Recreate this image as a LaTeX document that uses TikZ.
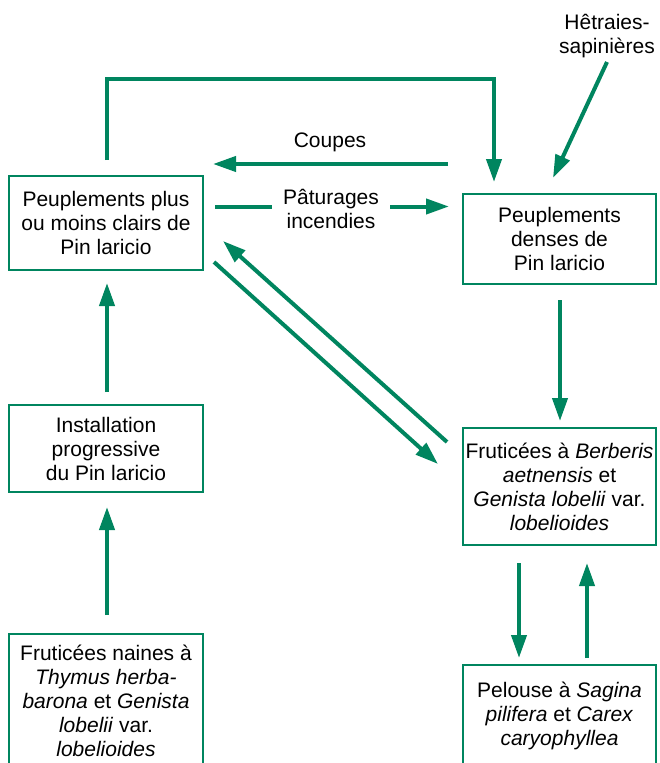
\documentclass[tikz,border=0pt]{standalone}
\usepackage{fontspec}
\setmainfont{Liberation Sans}
\usetikzlibrary{arrows.meta}
\definecolor{vert}{RGB}{0,133,95}
\begin{document}
\begin{tikzpicture}[x=1pt,y=-1pt,
  box/.style={draw=vert,line width=2.5pt,align=center,inner sep=0pt,
    font=\fontsize{21}{24}\selectfont},
  lbl/.style={align=center,inner sep=0pt,font=\fontsize{21}{24}\selectfont},
  ln/.style={draw=vert,line width=4pt,line join=miter},
  arr/.style={ln,-{Triangle[length=23pt,width=15pt]}}]
\useasboundingbox (0,0) rectangle (659,763);

% boxes
\node[box,minimum width=194pt,minimum height=94pt] (A) at (106,223)
  {Peuplements plus\\ou moins clairs de\\Pin laricio};
\node[box,minimum width=193pt,minimum height=90pt] (B) at (559.5,239)
  {Peuplements\\denses de\\Pin laricio};
\node[box,minimum width=193pt,minimum height=117pt] (C) at (559.5,486.5)
  {Fruticées à \textit{Berberis}\\\textit{aetnensis} et\\\textit{Genista lobelii} var.\\\textit{lobelioides}};
\node[box,minimum width=193pt,minimum height=102pt] (D) at (559.5,716)
  {Pelouse à \textit{Sagina}\\\textit{pilifera} et \textit{Carex}\\\textit{caryophyllea}};
\node[box,minimum width=194pt,minimum height=87pt] (E) at (106,448.5)
  {Installation\\progressive\\du Pin laricio};
\node[box,minimum width=194pt,minimum height=134pt] (F) at (106,701)
  {Fruticées naines à\\\textit{Thymus herba-}\\\textit{barona} et \textit{Genista}\\\textit{lobelii} var.\\\textit{lobelioides}};

% free labels
\node[lbl] (H) at (607,36) {Hêtraies-\\sapinières};

% connector end points
\coordinate (a1) at (107,160);
\coordinate (a2) at (107,79);
\coordinate (a3) at (494,79);
\coordinate (a4) at (494,182);
\coordinate (c1) at (448,164);
\coordinate (c2) at (213,164);
\coordinate (p1) at (215,206.5);
\coordinate (p2) at (449,206.5);
\coordinate (h1) at (607,62);
\coordinate (h2) at (553,178);
\coordinate (d1) at (447,442);
\coordinate (d2) at (223,241);
\coordinate (d3) at (214,262);
\coordinate (d4) at (438,464);
\coordinate (b1) at (560,300);
\coordinate (b2) at (560,421);
\coordinate (e1) at (519,563);
\coordinate (e2) at (519,658);
\coordinate (e3) at (587,658);
\coordinate (e4) at (587,563);
\coordinate (f1) at (107,392);
\coordinate (f2) at (107,283);
\coordinate (g1) at (107,615);
\coordinate (g2) at (107,507);

% connectors
\draw[arr] (a1) -- (a2) -- (a3) -- (a4);
\draw[arr] (c1) -- (c2);
\node[lbl] (Cp) at (330,142) {Coupes};
\draw[arr] (p1) -- (p2);
\node[lbl,fill=white,inner xsep=11pt] (Pt) at (331,208.5) {Pâturages\\incendies};
\draw[arr] (h1) -- (h2);
\draw[arr] (d1) -- (d2);
\draw[arr] (d3) -- (d4);
\draw[arr] (b1) -- (b2);
\draw[arr] (e1) -- (e2);
\draw[arr] (e3) -- (e4);
\draw[arr] (f1) -- (f2);
\draw[arr] (g1) -- (g2);
\end{tikzpicture}
\end{document}
